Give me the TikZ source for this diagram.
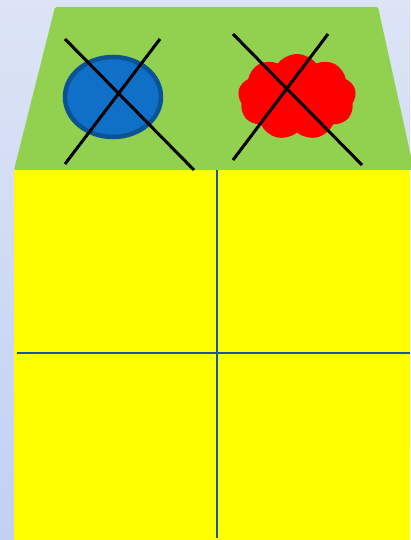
\documentclass[tikz,border=0pt]{standalone}
\usepackage{tikz}
\usepackage{xcolor}
\usetikzlibrary{shapes.geometric,shapes.symbols,positioning,calc,backgrounds}
\definecolor{BGtop}{HTML}{DDE4F6}
\definecolor{BGbot}{HTML}{C2D0F2}
\definecolor{ROOF}{HTML}{92D050}
\definecolor{WALL}{HTML}{FFFF00}
\definecolor{GRID}{HTML}{1656A8}
\definecolor{DISC}{HTML}{106FC6}
\definecolor{DISCrim}{HTML}{0B5394}

\begin{document}
\begin{tikzpicture}[x=1pt, y=-1pt,
    cross/.style={black, line width=3pt},
    gridline/.style={GRID, line width=1.4pt}]

        %% ── background and frame ──
        \useasboundingbox (0,0) rectangle (410,540);
        \shade[top color=BGtop, bottom color=BGbot]
          (0,0) rectangle (410,540);

        %% roof
        \fill[ROOF, rounded corners=1.5pt]
          (14,170) -- (55,7) -- (378,7) -- (414,170) -- cycle;

        %% wall
        \fill[WALL] (14,170) rectangle (410,540);

        %% window bars
        \draw[gridline] (217,170) -- (217,538);
        \draw[gridline] (17,353) -- (410,353);

        %% ── shapes on the roof ──

        %% blue disc
        \node[ellipse, fill=DISC, draw=DISCrim, line width=4.5pt,
              minimum width=96pt, minimum height=80pt, inner sep=0pt]
          (disc) at (113,97) {};

        %% red cloud
        \node[cloud, cloud puffs=9, cloud puff arc=105, fill=red,
              aspect=1.4, minimum width=118pt, minimum height=86pt,
              inner sep=0pt]
          (puff) at (297,97) {};

        %% ── crosses ON TOP ──
        \draw[cross] (65,39) -- (194,170);
        \draw[cross] (160,39) -- (65,164);

        \draw[cross] (233,34) -- (362,165);
        \draw[cross] (328,34) -- (233,160);

      \end{tikzpicture}
\end{document}
